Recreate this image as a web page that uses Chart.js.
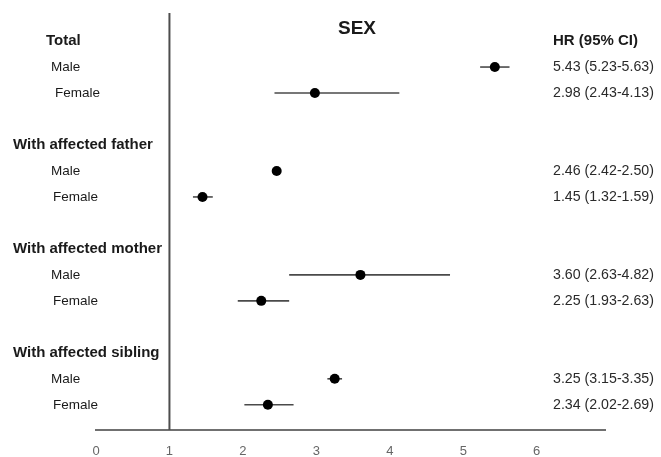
<!DOCTYPE html>
<html>
<head>
<meta charset="utf-8">
<script src="https://cdn.jsdelivr.net/npm/chart.js@4.4.1/dist/chart.umd.min.js"></script>
<style>
  html, body { margin: 0; padding: 0; background: #fff; }
  #wrap { width: 661px; height: 457px; position: relative; }
</style>
</head>
<body>
<div id="wrap"><canvas id="c" width="661" height="457"></canvas></div>
<script>
// Hazard ratios by sex, per family-history group
const groups = ['Total', 'With affected father', 'With affected mother', 'With affected sibling'];
const sexes = ['Male', 'Female'];
const hr    = [5.43, 2.98, 2.46, 1.45, 3.60, 2.25, 3.25, 2.34];
const lower = [5.23, 2.43, 2.42, 1.32, 2.63, 1.93, 3.15, 2.02];
const upper = [5.63, 4.13, 2.50, 1.59, 4.82, 2.63, 3.35, 2.69];
const xTicks = [0, 1, 2, 3, 4, 5, 6];
const title = 'SEX';
const valueHeader = 'HR (95% CI)';

// each group takes a header row, a Male row, a Female row and a blank row
const rowOf = i => Math.floor(i / 2) * 4 + 1 + (i % 2);
const points = hr.map((v, i) => ({ x: v, y: rowOf(i) }));
const fmt = i => hr[i].toFixed(2) + ' (' + lower[i].toFixed(2) + '-' + upper[i].toFixed(2) + ')';

const forestPlugin = {
  id: 'forest',
  beforeDatasetsDraw(chart) {
    const { ctx, scales: { x, y }, chartArea } = chart;
    ctx.save();
    // line of no effect at HR = 1
    ctx.strokeStyle = '#4d4d4d';
    ctx.lineWidth = 2;
    ctx.beginPath();
    ctx.moveTo(x.getPixelForValue(1), chartArea.top);
    ctx.lineTo(x.getPixelForValue(1), chartArea.bottom);
    ctx.stroke();
    // confidence intervals
    ctx.strokeStyle = '#4a4a4a';
    ctx.lineWidth = 1.6;
    hr.forEach((v, i) => {
      const py = y.getPixelForValue(rowOf(i));
      ctx.beginPath();
      ctx.moveTo(x.getPixelForValue(lower[i]), py);
      ctx.lineTo(x.getPixelForValue(upper[i]), py);
      ctx.stroke();
    });
    ctx.restore();
  },
  afterDraw(chart) {
    const { ctx, scales: { x, y } } = chart;
    ctx.save();
    ctx.textBaseline = 'middle';
    ctx.fillStyle = '#1a1a1a';
    // group headers
    ctx.font = 'bold 15px "Liberation Sans", Arial, sans-serif';
    groups.forEach((g, k) => {
      ctx.fillText(g, k === 0 ? 46 : 13, y.getPixelForValue(k * 4));
    });
    // sex rows and their values
    hr.forEach((v, i) => {
      const py = y.getPixelForValue(rowOf(i));
      ctx.font = '13.5px "Liberation Sans", Arial, sans-serif';
      ctx.fillStyle = '#1a1a1a';
      const lx = i % 2 === 0 ? 51 : (i === 1 ? 55 : 53);
      ctx.fillText(sexes[i % 2], lx, py);
      ctx.font = '14.2px "Liberation Sans", Arial, sans-serif';
      ctx.fillStyle = '#2a2a2a';
      ctx.fillText(fmt(i), 553, py);
    });
    // column titles
    ctx.fillStyle = '#1a1a1a';
    ctx.font = 'bold 15px "Liberation Sans", Arial, sans-serif';
    ctx.fillText(valueHeader, 553, y.getPixelForValue(0));
    ctx.font = 'bold 19px "Liberation Sans", Arial, sans-serif';
    ctx.textAlign = 'center';
    ctx.fillText(title, 357, 29);
    ctx.restore();
  }
};

new Chart(document.getElementById('c'), {
  type: 'scatter',
  data: {
    datasets: [{
      data: points,
      pointRadius: 5,
      pointHoverRadius: 5,
      pointBackgroundColor: '#000',
      pointBorderColor: '#000',
      pointBorderWidth: 0
    }]
  },
  options: {
    responsive: false,
    animation: false,
    layout: { padding: { left: 96, right: 56, top: 13, bottom: 0 } },
    plugins: { legend: { display: false }, tooltip: { enabled: false } },
    scales: {
      x: {
        type: 'linear',
        min: 0,
        max: 6.93,
        afterBuildTicks: s => { s.ticks = xTicks.map(v => ({ value: v })); },
        afterFit: s => { s.height = 27; },
        grid: { display: false, drawTicks: false },
        border: { display: true, color: '#707070', width: 2 },
        ticks: {
          padding: 14,
          color: '#666',
          font: { family: '"Liberation Sans", Arial, sans-serif', size: 13 },
          callback: v => String(v)
        }
      },
      y: {
        type: 'linear',
        reverse: true,
        min: -1.08,
        max: 14.97,
        display: false
      }
    }
  },
  plugins: [forestPlugin]
});
</script>
</body>
</html>
